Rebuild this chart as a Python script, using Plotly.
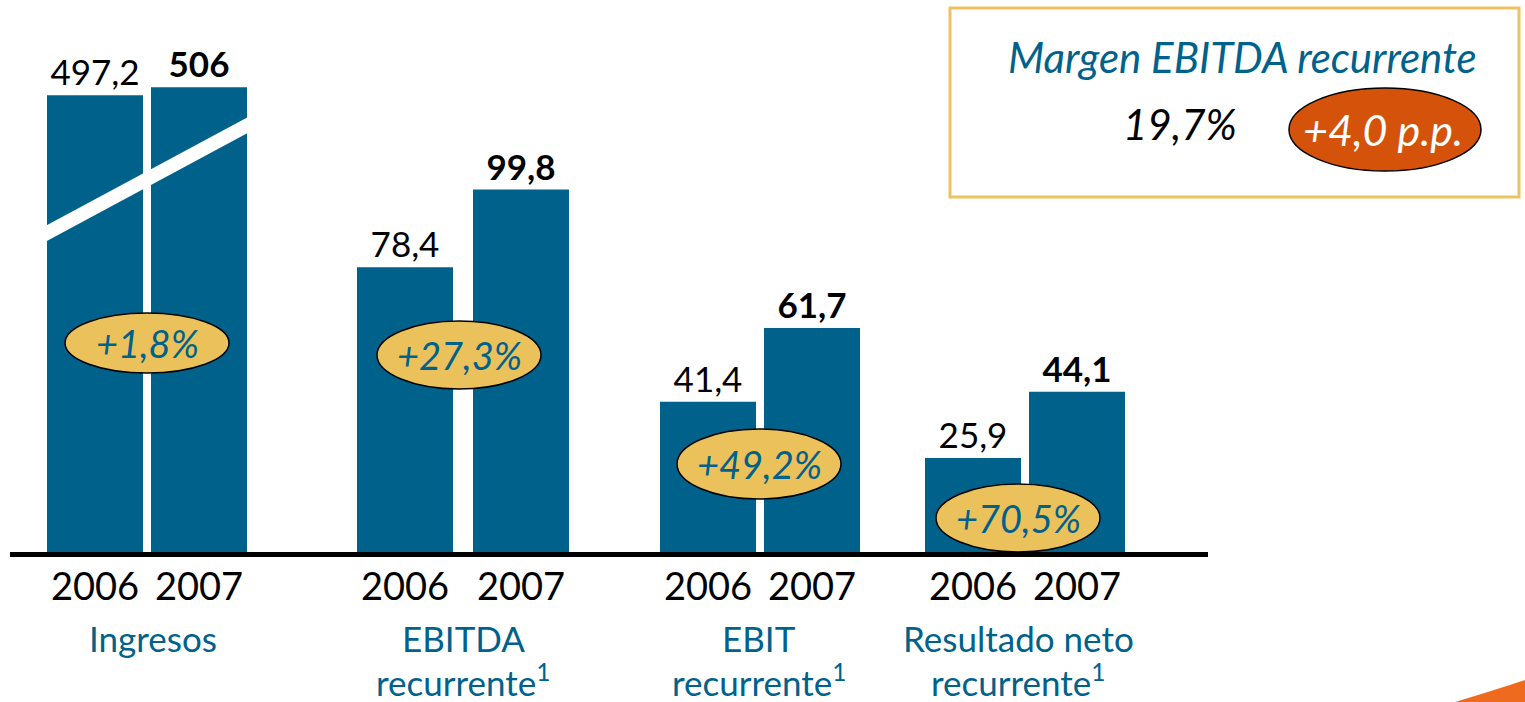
import plotly.graph_objects as go

# region Data
CATEGORIES = [["Ingresos"], ["EBITDA", "recurrente<sup>1</sup>"], ["EBIT", "recurrente<sup>1</sup>"],
              ["Resultado neto", "recurrente<sup>1</sup>"]]
YEARS = ["2006", "2007"]
VALUES_2006 = [497.2, 78.4, 41.4, 25.9]
VALUES_2007 = [506, 99.8, 61.7, 44.1]
GROWTH = ["+1,8%", "+27,3%", "+49,2%", "+70,5%"]
MARGIN_TITLE = "Margen EBITDA recurrente"
MARGIN_VALUE = "19,7%"
MARGIN_CHANGE = "+4,0 p.p."
# endregion

# region Layout constants (pixels of the 1525x702 page)
W, H = 1525, 702
PLOT_L, PLOT_R, PLOT_B = 10, 1208, 552
GROUP_X = [147, 463, 760, 1025]       # centre of each pair of bars
HALF_GAP = [52, 58, 52, 52]           # distance from pair centre to bar centre
BAR_W = 96
LABEL_X = [153, 463, 759, 1018]
LABEL_LINE_Y = [638, 680]
ELLIPSES = [(147, 343, 164, 60), (459, 355, 164, 68), (759, 464, 164, 70), (1018, 518, 164, 68)]

BLUE = "#00628b"
GOLD = "#ebc15c"
ORANGE = "#d4520a"
FONT = "Lato, 'Open Sans', sans-serif"
# endregion


def px(p):
    """pixel x -> paper x"""
    return (p - PLOT_L) / (PLOT_R - PLOT_L)


def py(p):
    """pixel y -> paper y"""
    return 1 - p / PLOT_B


def fmt(v):
    return f"{v:g}".replace(".", ",")


fig = go.Figure()

x_2006 = [g - h for g, h in zip(GROUP_X, HALF_GAP)]
x_2007 = [g + h for g, h in zip(GROUP_X, HALF_GAP)]

for xs, vals, weight in ((x_2006, VALUES_2006, "normal"), (x_2007, VALUES_2007, "bold")):
    common = dict(
        width=BAR_W,
        marker=dict(color=BLUE, line=dict(width=0)),
        textposition="outside",
        constraintext="none",
        cliponaxis=False,
        textfont=dict(family=FONT, size=35, color="black", weight=weight),
        hoverinfo="skip",
    )
    # Ingresos is drawn on its own (broken) scale
    fig.add_trace(go.Bar(x=xs[:1], y=vals[:1], text=[fmt(v) for v in vals[:1]], yaxis="y2", **common))
    fig.add_trace(go.Bar(x=xs[1:], y=vals[1:], text=[fmt(v) for v in vals[1:]], **common))

shapes = []

# white break across the Ingresos bars
bx0, by0, bx1, by1 = 37, 238.4, 257, 120.1
shapes.append(dict(type="line", xref="paper", yref="paper", x0=px(bx0), y0=py(by0), x1=px(bx1), y1=py(by1),
                   line=dict(color="white", width=14), layer="above"))

# growth ellipses
annotations = []
for (cx, cy, ew, eh), txt in zip(ELLIPSES, GROWTH):
    shapes.append(dict(type="circle", xref="paper", yref="paper",
                       x0=px(cx - ew / 2), x1=px(cx + ew / 2), y0=py(cy + eh / 2), y1=py(cy - eh / 2),
                       fillcolor=GOLD, line=dict(color="black", width=1.5), layer="above"))
    annotations.append(dict(xref="paper", yref="paper", x=px(cx), y=py(cy), text=txt, showarrow=False,
                            xanchor="center", yanchor="middle",
                            font=dict(family=FONT, size=38, color=BLUE, style="italic")))

# category names, one annotation per line
for lx, lines in zip(LABEL_X, CATEGORIES):
    for ly, line in zip(LABEL_LINE_Y, lines):
        annotations.append(dict(xref="paper", yref="paper", x=px(lx), y=py(ly), text=line, showarrow=False,
                                xanchor="center", yanchor="middle",
                                font=dict(family=FONT, size=35, color=BLUE)))

# EBITDA margin box
shapes.append(dict(type="rect", xref="paper", yref="paper", x0=px(950), x1=px(1519), y0=py(197), y1=py(8),
                   line=dict(color="#edc35f", width=3), fillcolor="rgba(0,0,0,0)"))
shapes.append(dict(type="circle", xref="paper", yref="paper", x0=px(1289), x1=px(1481), y0=py(171), y1=py(88),
                   fillcolor=ORANGE, line=dict(color="black", width=1.5)))
annotations.append(dict(xref="paper", yref="paper", x=px(1242), y=py(57), text=MARGIN_TITLE, showarrow=False,
                        xanchor="center", yanchor="middle",
                        font=dict(family=FONT, size=42, color=BLUE, style="italic")))
annotations.append(dict(xref="paper", yref="paper", x=px(1180), y=py(124), text=MARGIN_VALUE, showarrow=False,
                        xanchor="center", yanchor="middle",
                        font=dict(family=FONT, size=42, color="black", style="italic")))
annotations.append(dict(xref="paper", yref="paper", x=px(1383), y=py(130), text=MARGIN_CHANGE, showarrow=False,
                        xanchor="center", yanchor="middle",
                        font=dict(family=FONT, size=43, color="white", style="italic")))

# orange corner swoosh
swoosh = (f"M {px(1455)},{py(702)} Q {px(1495)},{py(690)} {px(1525)},{py(680)} "
          f"L {px(1525)},{py(702)} Z")
shapes.append(dict(type="path", xref="paper", yref="paper", path=swoosh,
                   fillcolor="#ee6a1f", line=dict(width=0)))

fig.update_layout(
    width=W,
    height=H,
    margin=dict(l=PLOT_L, r=W - PLOT_R, t=0, b=H - PLOT_B),
    paper_bgcolor="white",
    plot_bgcolor="white",
    barmode="overlay",
    showlegend=False,
    font=dict(family=FONT),
    xaxis=dict(
        range=[PLOT_L, PLOT_R],
        tickvals=[x for pair in zip(x_2006, x_2007) for x in pair],
        ticktext=YEARS * len(GROUP_X),
        tickfont=dict(family=FONT, size=38, color="black"),
        ticks="",
        ticklabelstandoff=-3,
        showline=True,
        linewidth=5,
        linecolor="black",
        showgrid=False,
        zeroline=False,
        fixedrange=True,
    ),
    yaxis=dict(range=[0, 152], visible=False, fixedrange=True),
    yaxis2=dict(range=[0, 601], overlaying="y", visible=False, fixedrange=True),
    shapes=shapes,
    annotations=annotations,
)

# page body margin off so the figure sits at the window's corner
fig.write_html("out.html", config={"displayModeBar": False},
               post_script="document.body.style.margin='0';")
